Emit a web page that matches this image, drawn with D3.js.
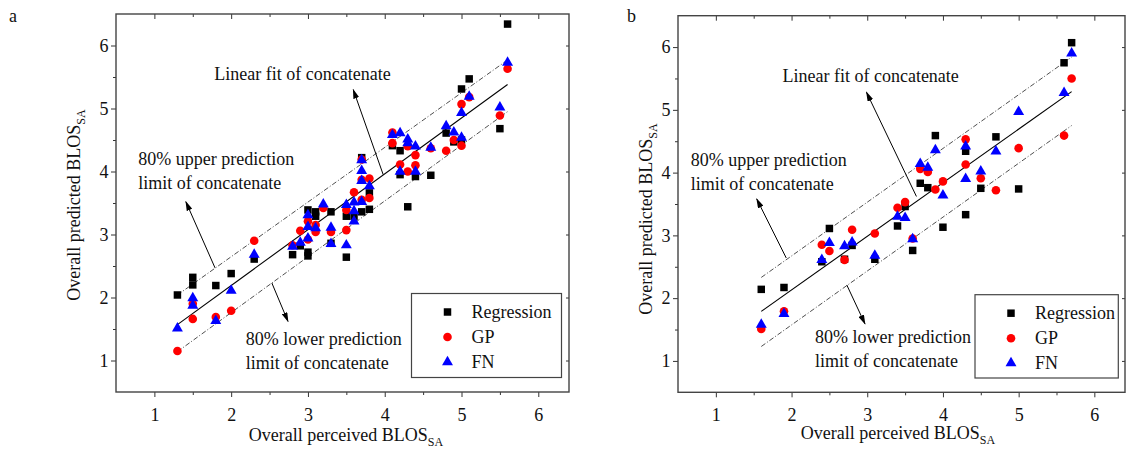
<!DOCTYPE html>
<html>
<head>
<meta charset="utf-8">
<script src="https://cdn.jsdelivr.net/npm/d3@7"></script>
<style>
  body { margin: 0; background: #fff; }
  svg { font-family: "Liberation Serif", "Times New Roman", serif; }
</style>
</head>
<body>
<svg id="chart" width="1127" height="451"></svg>
<script>

// ---------------- data: panel a ----------------
var aRegression = [[1.3,2.04],[1.5,2.32],[1.5,2.20],[1.8,2.19],[2.0,2.38],[2.3,2.61],[2.8,2.68],[2.9,2.82],
  [3.0,3.39],[3.0,2.72],[3.0,2.66],[3.1,3.36],[3.1,3.29],[3.3,3.36],[3.3,2.86],[3.5,3.29],[3.5,2.64],
  [3.6,3.29],[3.7,4.22],[3.7,3.36],[3.8,3.40],[3.8,3.66],[4.1,4.41],[4.2,4.33],[4.2,3.95],[4.3,3.44],
  [4.4,3.92],[4.6,3.94],[4.8,4.61],[4.9,4.47],[5.0,5.31],[5.0,4.50],[5.1,5.47],[5.5,4.68],[5.6,6.34]];
var aGP = [[1.3,1.15],[1.5,1.66],[1.5,1.90],[1.8,1.69],[2.0,1.79],[2.3,2.90],[2.8,2.83],[2.9,3.06],
  [3.0,3.21],[3.0,2.92],[3.1,3.04],[3.1,3.15],[3.2,3.42],[3.3,3.04],[3.5,3.07],[3.5,3.39],[3.6,3.67],
  [3.7,3.55],[3.7,3.87],[3.7,4.19],[3.8,3.89],[3.8,3.58],[4.1,4.62],[4.1,4.45],[4.2,4.11],[4.3,4.00],
  [4.3,4.40],[4.4,4.26],[4.4,4.10],[4.6,4.37],[4.8,4.33],[4.9,4.50],[5.0,4.41],[5.0,5.07],[5.1,5.18],
  [5.5,4.89],[5.6,5.63]];
var aFN = [[1.3,1.51],[1.5,1.99],[1.5,1.87],[1.8,1.63],[2.0,2.11],[2.3,2.68],[2.8,2.81],[2.9,2.87],
  [3.0,3.31],[3.0,3.12],[3.0,2.94],[3.1,3.10],[3.2,3.48],[3.3,3.11],[3.3,2.85],[3.5,3.47],[3.5,2.83],
  [3.6,3.51],[3.6,3.37],[3.6,3.21],[3.7,4.18],[3.7,4.01],[3.7,3.85],[3.7,3.52],[3.8,3.77],[4.1,4.58],
  [4.2,4.61],[4.2,4.00],[4.3,4.51],[4.3,4.45],[4.4,4.40],[4.4,4.00],[4.6,4.38],[4.8,4.72],[4.9,4.62],
  [5.0,4.54],[5.0,4.93],[5.1,5.19],[5.5,5.02],[5.6,5.73]];
var aFit   = [[1.3,1.57],[5.6,5.38]];
var aUpper = [[1.3,2.04],[5.6,5.77]];
var aLower = [[1.3,1.14],[5.6,4.95]];

// ---------------- data: panel b ----------------
var bRegression = [[1.6,2.14],[1.9,2.17],[2.4,2.58],[2.5,3.11],[2.7,2.62],[2.8,2.84],[3.1,2.62],[3.4,3.15],
  [3.5,3.46],[3.6,2.76],[3.7,3.83],[3.8,3.76],[3.9,4.59],[4.0,3.13],[4.3,4.34],[4.3,3.33],[4.5,3.75],
  [4.7,4.57],[5.0,3.74],[5.6,5.75],[5.7,6.07]];
var bGP = [[1.6,1.51],[1.9,1.79],[2.4,2.85],[2.5,2.75],[2.7,2.61],[2.8,3.09],[3.1,3.03],[3.4,3.44],
  [3.5,3.53],[3.6,2.95],[3.7,4.06],[3.8,4.01],[3.9,3.73],[4.0,3.86],[4.3,4.53],[4.3,4.13],[4.5,3.91],
  [4.7,3.72],[5.0,4.39],[5.6,4.59],[5.7,5.50]];
var bFN = [[1.6,1.58],[1.9,1.75],[2.4,2.61],[2.5,2.88],[2.7,2.83],[2.8,2.89],[3.1,2.68],[3.4,3.30],
  [3.5,3.28],[3.6,2.94],[3.7,4.14],[3.8,4.08],[3.9,4.36],[4.0,3.64],[4.3,4.42],[4.3,3.90],[4.5,4.02],
  [4.7,4.34],[5.0,4.97],[5.6,5.27],[5.7,5.90]];
var bFit   = [[1.6,1.79],[5.7,5.29]];
var bUpper = [[1.6,2.33],[5.7,5.84]];
var bLower = [[1.6,1.23],[5.7,4.75]];

// ---------------- ticks / labels ----------------
var majorTicks = [1, 2, 3, 4, 5, 6];
var minorTicks = [1.5, 2.5, 3.5, 4.5, 5.5];
var seriesNames = ["Regression", "GP", "FN"];
var seriesColors = ["#000000", "#ff0000", "#0000ff"];
var xTitle = "Overall perceived BLOS";
var yTitle = "Overall predicted BLOS";
var subTitle = "SA";
var fitText = "Linear fit of concatenate";
var upperText = ["80% upper prediction", "limit of concatenate"];
var lowerText = ["80% lower prediction", "limit of concatenate"];

var svg = d3.select("#chart");

// arrow head
svg.append("defs").append("marker")
    .attr("id", "arrowhead")
    .attr("markerUnits", "userSpaceOnUse")
    .attr("markerWidth", 10).attr("markerHeight", 6)
    .attr("refX", 9).attr("refY", 3)
    .attr("orient", "auto")
  .append("path")
    .attr("d", "M0,0 L10,3 L0,6 Z")
    .attr("fill", "#000");

var symbols = [d3.symbolSquare, d3.symbolCircle, d3.symbolTriangle];
var symbolSizes = [56, 58, 52];

function drawPanel(p) {
  var x = d3.scaleLinear().domain(p.xDomain).range([p.left, p.right]);
  var y = d3.scaleLinear().domain([0.5, 6.5]).range([p.bottom, p.top]);
  var g = svg.append("g");

  // axes
  var bottom = g.append("g").attr("transform", "translate(0," + p.bottom + ")")
    .call(d3.axisBottom(x).tickValues(majorTicks).tickSize(5).tickPadding(11).tickFormat(d3.format("d")));
  g.append("g").attr("transform", "translate(0," + p.bottom + ")")
    .call(d3.axisBottom(x).tickValues(minorTicks).tickSize(3).tickFormat(""));
  var left = g.append("g").attr("transform", "translate(" + p.left + ",0)")
    .call(d3.axisLeft(y).tickValues(majorTicks).tickSize(5).tickPadding(2.5).tickFormat(d3.format("d")));
  g.append("g").attr("transform", "translate(" + p.left + ",0)")
    .call(d3.axisLeft(y).tickValues(minorTicks).tickSize(3).tickFormat(""));
  g.append("g").attr("transform", "translate(0," + p.top + ")")
    .call(d3.axisBottom(x).tickValues(majorTicks).tickSize(5).tickFormat(""));
  g.append("g").attr("transform", "translate(0," + p.top + ")")
    .call(d3.axisBottom(x).tickValues(minorTicks).tickSize(3).tickFormat(""));
  g.append("g").attr("transform", "translate(" + p.right + ",0)")
    .call(d3.axisLeft(y).tickValues(majorTicks).tickSize(3).tickFormat(""));

  g.selectAll(".domain").remove();
  g.selectAll(".tick line").attr("stroke", "#333").attr("stroke-width", 1);
  g.selectAll(".tick text").attr("font-family", "Liberation Serif, serif")
    .attr("font-size", 18).attr("fill", "#111");

  // frame
  g.append("rect")
    .attr("x", p.left).attr("y", p.top)
    .attr("width", p.right - p.left).attr("height", p.bottom - p.top)
    .attr("fill", "none").attr("stroke", "#444").attr("stroke-width", 1.4);

  // fit + prediction lines
  var line = d3.line().x(function(d) { return x(d[0]); }).y(function(d) { return y(d[1]); });
  g.append("path").attr("d", line(p.fit)).attr("fill", "none").attr("stroke", "#000").attr("stroke-width", 1.1);
  [p.upper, p.lower].forEach(function(l) {
    g.append("path").attr("d", line(l)).attr("fill", "none")
      .attr("stroke", "#222").attr("stroke-width", 0.8).attr("stroke-dasharray", "5,2,1,2");
  });

  // points
  p.series.forEach(function(s, i) {
    g.selectAll(null).data(s).enter().append("path")
      .attr("d", d3.symbol().type(symbols[i]).size(symbolSizes[i]))
      .attr("transform", function(d) { return "translate(" + x(d[0]) + "," + y(d[1]) + ")"; })
      .attr("fill", seriesColors[i]);
  });

  // annotations
  p.arrows.forEach(function(a) {
    g.append("line")
      .attr("x1", x(a[0][0])).attr("y1", y(a[0][1]))
      .attr("x2", x(a[1][0])).attr("y2", y(a[1][1]))
      .attr("stroke", "#000").attr("stroke-width", 1)
      .attr("marker-end", "url(#arrowhead)");
  });
  function note(lines, pos) {
    lines.forEach(function(t, k) {
      g.append("text").attr("x", x(pos[0])).attr("y", y(pos[1]) + k * 24.5)
        .attr("font-size", 18).attr("fill", "#111").text(t);
    });
  }
  note([fitText], p.fitPos);
  note(upperText, p.upperPos);
  note(lowerText, p.lowerPos);

  // legend
  var lg = g.append("g");
  lg.append("rect").attr("x", p.legend[0]).attr("y", p.legend[1])
    .attr("width", p.legend[2]).attr("height", p.legend[3])
    .attr("fill", "#fff").attr("stroke", "#444").attr("stroke-width", 1.2);
  seriesNames.forEach(function(name, i) {
    var cy = p.legend[1] + 18.5 + i * 25;
    lg.append("path")
      .attr("d", d3.symbol().type(symbols[i]).size(symbolSizes[i]))
      .attr("transform", "translate(" + (p.legend[0] + 36) + "," + cy + ")")
      .attr("fill", seriesColors[i]);
    lg.append("text").attr("x", p.legend[0] + 60).attr("y", cy + 6)
      .attr("font-size", 18).attr("fill", "#111").text(name);
  });

  // axis titles
  var xt = g.append("text").attr("x", p.xTitle[0]).attr("y", p.xTitle[1])
    .attr("text-anchor", "middle").attr("font-size", 18).attr("fill", "#111");
  xt.append("tspan").text(xTitle);
  xt.append("tspan").attr("font-size", 12).attr("dy", 5).text(subTitle);

  var yt = g.append("text")
    .attr("transform", "translate(" + p.yTitle[0] + "," + p.yTitle[1] + ") rotate(-90)")
    .attr("text-anchor", "middle").attr("font-size", 18).attr("fill", "#111");
  yt.append("tspan").text(yTitle);
  yt.append("tspan").attr("font-size", 12).attr("dy", 5).text(subTitle);

  // panel letter
  g.append("text").attr("x", p.letterPos[0]).attr("y", p.letterPos[1])
    .attr("font-size", 18).attr("fill", "#111").text(p.letter);
}

drawPanel({
  letter: "a", letterPos: [9, 22],
  left: 116, right: 569, top: 14, bottom: 392, xDomain: [0.5, 6.4],
  series: [aRegression, aGP, aFN],
  fit: aFit, upper: aUpper, lower: aLower,
  arrows: [[[3.98, 3.95], [3.59, 5.30]], [[1.79, 2.47], [1.41, 3.52]], [[2.53, 2.23], [2.74, 1.62]]],
  fitPos: [1.78, 5.46], upperPos: [0.79, 4.11], lowerPos: [2.19, 1.25],
  legend: [411.5, 293.5, 150, 84],
  xTitle: [346, 441], yTitle: [80, 205]
});

drawPanel({
  letter: "b", letterPos: [627, 22],
  left: 678, right: 1125, top: 15.7, bottom: 392.3, xDomain: [0.5, 6.405],
  series: [bRegression, bGP, bFN],
  fit: bFit, upper: bUpper, lower: bLower,
  arrows: [[[3.65, 3.62], [2.99, 5.28]], [[1.93, 2.64], [1.54, 3.58]], [[2.73, 2.21], [2.97, 1.59]]],
  fitPos: [1.88, 5.45], upperPos: [0.67, 4.11], lowerPos: [2.31, 1.29],
  legend: [975, 294.7, 143.3, 83.3],
  xTitle: [898, 439], yTitle: [652, 219]
});

</script>
</body>
</html>
